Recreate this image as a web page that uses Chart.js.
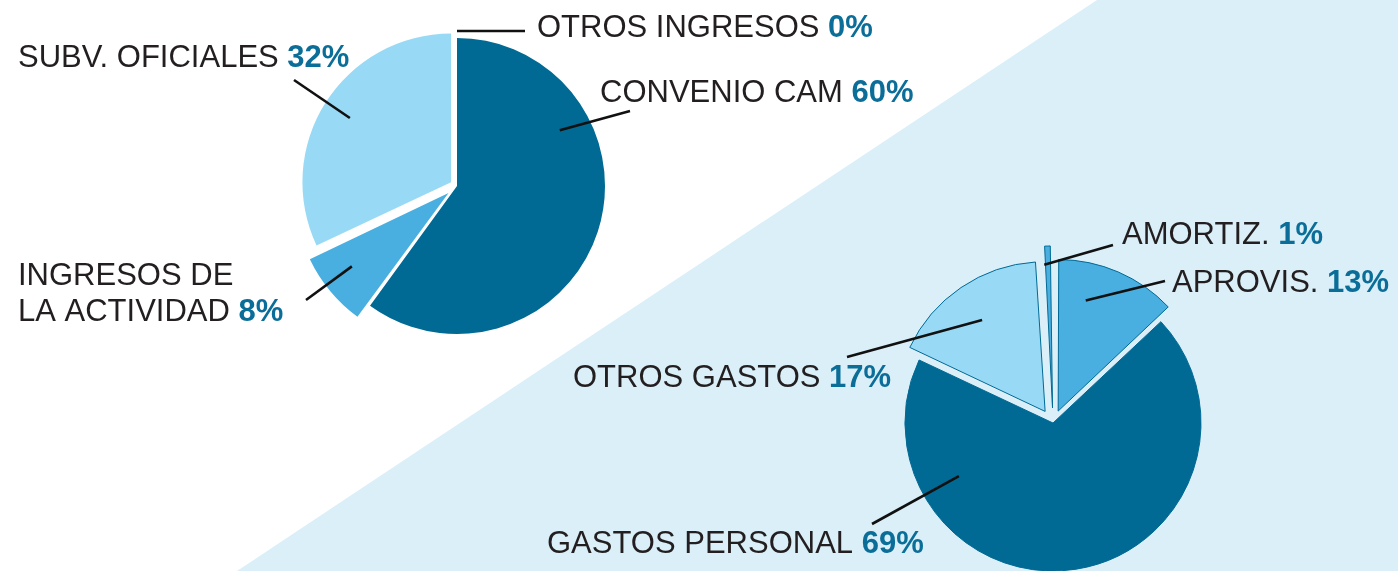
<!DOCTYPE html>
<html>
<head>
<meta charset="utf-8">
<script src="https://cdn.jsdelivr.net/npm/chart.js@4.4.1/dist/chart.umd.min.js"></script>
<style>
  html, body { margin: 0; padding: 0; width: 1398px; height: 571px; overflow: hidden; background: #ffffff; }
  #bg { position: absolute; left: 0; top: 0; width: 1398px; height: 571px; background: #daeff8;
        clip-path: polygon(1097px 0, 1398px 0, 1398px 571px, 237px 571px); }
  .wrap { position: absolute; left: 0; top: 0; width: 1398px; height: 571px; }
</style>
</head>
<body>
<div id="bg"></div>
<div class="wrap"><canvas id="c1"></canvas></div>
<div class="wrap"><canvas id="c2"></canvas></div>
<script>
// ---- data ----
const ingresosLabels = ['CONVENIO CAM', 'INGRESOS DE\nLA ACTIVIDAD', 'SUBV. OFICIALES', 'OTROS INGRESOS'];
const ingresosValues = [60, 8, 32, 0];
const gastosLabels = ['APROVIS.', 'GASTOS PERSONAL', 'OTROS GASTOS', 'AMORTIZ.'];
const gastosValues = [13, 69, 17, 1];

// ---- styles ----
const DARK = '#006994', MID = '#49aee0', LIGHT = '#98daf6';
const ingresosColors = [DARK, MID, LIGHT, MID];
const gastosColors = [MID, DARK, LIGHT, MID];
const ingresosOffsets = [0, 44, 28, 0];
const gastosOffsets = [52, 0, 56, 60];
const TEXT = '#231f20', PCT = '#0b6e99';
const FONT_SIZE = 31, LINE_H = 36;

// leader layout: start on slice (deg clockwise from top, fraction of radius), end point, text anchor
const ingresosLayout = [
  { deg: 61.5, r: 0.79, ex: 630, ey: 111, tx: 600, ty: 102 },
  { deg: 232.8, r: 0.82, ex: 306, ey: 300, tx: 18, ty: 285 },
  { deg: 302.4, r: 0.81, ex: 294, ey: 80, tx: 18, ty: 67 },
  { deg: 0, r: 1.05, ex: 525, ey: 31, tx: 537, ty: 37, horiz: true }
];
const gastosLayout = [
  { deg: 14, r: 0.77, ex: 1165, ey: 281, tx: 1172, ty: 292 },
  { deg: 240.6, r: 0.73, ex: 872, ey: 524, tx: 547, ty: 553 },
  { deg: 325.4, r: 0.75, ex: 847, ey: 357, tx: 573, ty: 387 },
  { deg: 356.7, r: 0.97, ex: 1113, ey: 245, tx: 1122, ty: 244 }
];

const leaderPlugin = {
  id: 'leaders',
  afterDatasetsDraw(chart, args, opts) {
    const ctx = chart.ctx;
    const meta = chart.getDatasetMeta(0);
    const labels = chart.data.labels;
    const values = chart.data.datasets[0].data;
    ctx.save();
    opts.layout.forEach((it, i) => {
      const arc = meta.data[i];
      const p = arc.getProps(['x', 'y', 'startAngle', 'endAngle', 'outerRadius'], true);
      const off = (arc.options.offset || 0) / 4;
      const mid = (p.startAngle + p.endAngle) / 2;
      const cx = p.x + Math.cos(mid) * off;
      const cy = p.y + Math.sin(mid) * off;
      const a = (it.deg - 90) * Math.PI / 180;
      const sx = cx + Math.cos(a) * it.r * p.outerRadius;
      const sy = it.horiz ? it.ey : cy + Math.sin(a) * it.r * p.outerRadius;
      ctx.beginPath();
      ctx.moveTo(sx, sy);
      ctx.lineTo(it.ex, it.ey);
      ctx.lineWidth = 2.6;
      ctx.strokeStyle = '#111111';
      ctx.lineCap = 'butt';
      ctx.stroke();

      const lines = labels[i].split('\n');
      ctx.textBaseline = 'alphabetic';
      ctx.textAlign = 'left';
      lines.forEach((ln, k) => {
        const y = it.ty + k * LINE_H;
        ctx.font = FONT_SIZE + "px 'Liberation Sans', Arial, sans-serif";
        ctx.fillStyle = TEXT;
        ctx.fillText(ln, it.tx, y);
        if (k === lines.length - 1) {
          const w = ctx.measureText(ln + ' ').width;
          ctx.font = 'bold ' + FONT_SIZE + "px 'Liberation Sans', Arial, sans-serif";
          ctx.fillStyle = PCT;
          ctx.fillText(values[i] + '%', it.tx + w, y);
        }
      });
    });
    ctx.restore();
  }
};

function makePie(id, labels, values, colors, offsets, borderColor, borderWidth, padding, layout) {
  return new Chart(document.getElementById(id), {
    type: 'pie',
    data: {
      labels: labels,
      datasets: [{
        data: values,
        backgroundColor: colors,
        offset: offsets,
        borderColor: borderColor,
        borderWidth: borderWidth,
        clip: false
      }]
    },
    options: {
      responsive: true,
      maintainAspectRatio: false,
      animation: false,
      radius: 148,
      rotation: 0,
      layout: { padding: padding },
      plugins: {
        legend: { display: false },
        tooltip: { enabled: false },
        leaders: { layout: layout }
      },
      events: []
    },
    plugins: [leaderPlugin]
  });
}

makePie('c1', ingresosLabels, ingresosValues, ingresosColors, ingresosOffsets, '#ffffff', 0,
  { left: 309, right: 793, top: 38, bottom: 237 }, ingresosLayout);
makePie('c2', gastosLabels, gastosValues, gastosColors, gastosOffsets, DARK, 1,
  { left: 905, right: 197, top: 275, bottom: 0 }, gastosLayout);
</script>
</body>
</html>
